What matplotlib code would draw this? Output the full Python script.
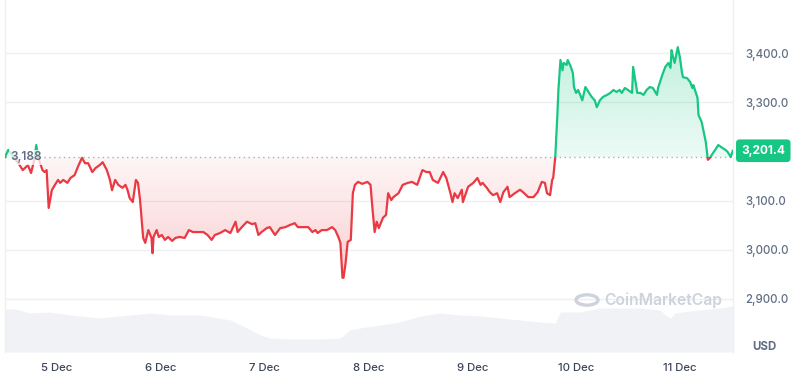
import numpy as np
import matplotlib
matplotlib.use("Agg")
import matplotlib.pyplot as plt
from matplotlib.path import Path
from matplotlib.patches import Rectangle, Circle
from matplotlib.colors import to_rgb

plt.rcParams['font.family'] = ['Inter', 'DejaVu Sans']

# ---- data (time in fractional day-of-December, price in USD) ----
t = [4.50, 4.53, 4.59, 4.64, 4.67, 4.72, 4.75, 4.78, 4.80, 4.82, 4.86, 4.88, 4.90, 4.92,
     4.95, 4.98, 5.01, 5.03, 5.06, 5.10, 5.13, 5.17, 5.20, 5.24, 5.27, 5.30, 5.34, 5.37,
     5.41, 5.44, 5.48, 5.51, 5.53, 5.56, 5.59, 5.63, 5.66, 5.68, 5.70, 5.73, 5.76, 5.78,
     5.80, 5.83, 5.85, 5.88, 5.91, 5.92, 5.93, 5.96, 5.98, 6.01, 6.04, 6.07, 6.11, 6.14,
     6.18, 6.23, 6.27, 6.31, 6.36, 6.41, 6.45, 6.49, 6.52, 6.57, 6.62, 6.67, 6.72, 6.74,
     6.78, 6.83, 6.88, 6.91, 6.94, 6.97, 7.02, 7.05, 7.10, 7.15, 7.20, 7.24, 7.29, 7.32,
     7.37, 7.42, 7.46, 7.49, 7.51, 7.55, 7.60, 7.65, 7.68, 7.71, 7.73, 7.75, 7.76, 7.78,
     7.80, 7.83, 7.85, 7.87, 7.90, 7.94, 7.99, 8.02, 8.04, 8.06, 8.08, 8.10, 8.14, 8.17,
     8.19, 8.22, 8.24, 8.29, 8.33, 8.38, 8.42, 8.47, 8.52, 8.56, 8.59, 8.62, 8.67, 8.72,
     8.75, 8.79, 8.81, 8.83, 8.86, 8.90, 8.91, 8.96, 9.01, 9.05, 9.08, 9.10, 9.14, 9.17,
     9.20, 9.24, 9.27, 9.30, 9.34, 9.36, 9.41, 9.46, 9.49, 9.54, 9.59, 9.63, 9.67, 9.70,
     9.72, 9.75, 9.77, 9.78, 9.80, 9.82, 9.83, 9.85, 9.87, 9.88, 9.91, 9.92, 9.95, 9.97,
     9.98, 10.00, 10.02, 10.04, 10.06, 10.09, 10.12, 10.15, 10.18, 10.20, 10.23, 10.26,
     10.30, 10.33, 10.36, 10.39, 10.42, 10.44, 10.47, 10.50, 10.54, 10.55, 10.57, 10.59,
     10.62, 10.65, 10.68, 10.71, 10.74, 10.78, 10.79, 10.83, 10.86, 10.89, 10.91, 10.92,
     10.93, 10.95, 10.97, 10.98, 11.00, 11.02, 11.03, 11.07, 11.10, 11.12, 11.13, 11.17,
     11.18, 11.21, 11.23, 11.25, 11.27, 11.29, 11.32, 11.34, 11.37, 11.41, 11.44, 11.46,
     11.49, 11.51]
price = [3189, 3203, 3187, 3172, 3162, 3172, 3156, 3182, 3213, 3187, 3162, 3158, 3162, 3085,
         3121, 3132, 3142, 3136, 3142, 3136, 3146, 3152, 3168, 3187, 3176, 3176, 3158, 3166,
         3172, 3178, 3162, 3142, 3121, 3142, 3132, 3126, 3132, 3121, 3105, 3097, 3142, 3136,
         3101, 3024, 3014, 3040, 3024, 2993, 3026, 3040, 3026, 3030, 3020, 3026, 3018, 3024,
         3026, 3024, 3040, 3036, 3036, 3036, 3030, 3020, 3030, 3034, 3040, 3034, 3057, 3036,
         3046, 3057, 3052, 3054, 3030, 3036, 3044, 3046, 3030, 3044, 3046, 3050, 3054, 3046,
         3046, 3046, 3036, 3040, 3034, 3040, 3040, 3046, 3040, 3026, 3014, 2943, 2943, 2973,
         3016, 3020, 3115, 3132, 3138, 3134, 3138, 3132, 3081, 3036, 3057, 3044, 3065, 3071,
         3115, 3101, 3107, 3115, 3132, 3136, 3138, 3132, 3162, 3158, 3158, 3142, 3136, 3158,
         3146, 3115, 3097, 3115, 3105, 3122, 3097, 3128, 3136, 3146, 3132, 3136, 3126, 3117,
         3111, 3115, 3097, 3117, 3128, 3107, 3115, 3122, 3117, 3107, 3107, 3117, 3138, 3136,
         3115, 3111, 3142, 3146, 3189, 3274, 3325, 3386, 3365, 3380, 3376, 3386, 3372, 3359,
         3331, 3319, 3325, 3315, 3304, 3331, 3321, 3311, 3304, 3290, 3304, 3311,
         3315, 3319, 3325, 3321, 3325, 3319, 3329, 3325, 3319, 3372, 3345, 3319,
         3319, 3315, 3325, 3331, 3329, 3315, 3329, 3355, 3372, 3380, 3370, 3406,
         3396, 3380, 3402, 3412, 3392, 3361, 3351, 3349, 3341, 3329, 3335, 3309,
         3274, 3260, 3239, 3219, 3183, 3187, 3197, 3203, 3213, 3207, 3203, 3199,
         3189, 3201.4]
baseline = 3188
vol_t = [4.50, 4.60, 4.74, 4.93, 5.13, 5.41, 5.70, 5.90, 6.09, 6.38, 6.67, 6.81, 6.96, 7.05,
         7.24, 7.53, 7.73, 7.82, 7.92, 8.11, 8.30, 8.50, 8.69, 8.88, 9.08, 9.27, 9.46, 9.65,
         9.80, 9.85, 10.04, 10.23, 10.62, 10.81, 10.86, 10.91, 10.95, 11.10, 11.39, 11.51]
volume = [43, 43, 39, 40, 37, 34, 37, 39, 37, 37, 32, 25, 17, 14,
          13, 13, 14, 22, 24, 27, 30, 36, 39, 37, 36, 34, 32, 30,
          29, 40, 40, 44, 44, 42, 37, 34, 39, 41, 44, 46]
tick_days = [5, 6, 7, 8, 9, 10, 11]
tick_labels = ['5 Dec', '6 Dec', '7 Dec', '8 Dec', '9 Dec', '10 Dec', '11 Dec']
y_ticks = [2900, 3000, 3100, 3300, 3400]
y_tick_labels = ['2,900.0', '3,000.0', '3,100.0', '3,300.0', '3,400.0']

GREEN = '#16c784'
RED = '#ea3943'
TXT = '#616e85'

t = np.array(t)
price = np.array(price)

fig = plt.figure(figsize=(8, 3.76), dpi=100)
W, H = 800, 376
ax = fig.add_axes([5 / W, 24 / H, 728 / W, 352 / H])
xmin, xmax = 4.499, 11.512
ymin, ymax = 2792, 3508

# volume (background)
axv = ax.twinx()
axv.fill_between(vol_t, volume, 0, color='#f0f2f6', lw=0, zorder=0)
axv.set_ylim(0, 352)
axv.set_axis_off()
ax.set_zorder(axv.get_zorder() + 1)
ax.patch.set_visible(False)

ax.set_xlim(xmin, xmax)
ax.set_ylim(ymin, ymax)

# grid
for yv in y_ticks:
    ax.axhline(yv, color='#eceff3', lw=1.0, zorder=1)

# gradient fills
def grad_fill(mask, c, y0, y1, a0, a1):
    coll = ax.fill_between(t, price, baseline, where=mask, interpolate=True,
                           facecolor='none', edgecolor='none')
    paths = coll.get_paths()
    if not paths:
        return
    cp = Path.make_compound_path(*paths)
    n = 256
    rgb = to_rgb(c)
    img = np.zeros((n, 2, 4))
    img[:, :, :3] = rgb
    alphas = np.linspace(a0, a1, n)
    img[:, :, 3] = alphas[:, None]
    lo, hi = min(y0, y1), max(y0, y1)
    if y0 > y1:
        img = img[::-1]
    im = ax.imshow(img, extent=[xmin, xmax, lo, hi], origin='lower', aspect='auto',
                   interpolation='bilinear', zorder=2)
    im.set_clip_path(cp, transform=ax.transData)

grad_fill(price >= baseline, GREEN, baseline, 3420, 0.08, 0.27)
grad_fill(price <= baseline, RED, baseline, 2940, 0.05, 0.24)
ax.set_xlim(xmin, xmax)
ax.set_ylim(ymin, ymax)

# baseline dotted
ax.axhline(baseline, color='#a6b0c3', lw=1.0, ls=(0, (1, 2.5)), zorder=3)

# line coloured above/below baseline
lg, = ax.plot(t, price, color=GREEN, lw=1.6, zorder=4, solid_joinstyle='round')
lg.set_clip_path(Rectangle((xmin, baseline), xmax - xmin, 1000, transform=ax.transData))
lr, = ax.plot(t, price, color=RED, lw=1.6, zorder=4, solid_joinstyle='round')
lr.set_clip_path(Rectangle((xmin, baseline - 1000), xmax - xmin, 1000, transform=ax.transData))

# baseline label
ax.text(4.55, baseline, '3,188', color=TXT, fontsize=8.5, fontweight='semibold',
        va='center', ha='left', zorder=6,
        bbox=dict(boxstyle='square,pad=0.15', fc='white', ec='none', alpha=0.75))

# axes styling
for s in ['top', 'bottom']:
    ax.spines[s].set_visible(False)
for s in ['left', 'right']:
    ax.spines[s].set_color('#eceff3')
    ax.spines[s].set_linewidth(1.0)

ax.yaxis.tick_right()
ax.set_yticks(y_ticks)
ax.set_yticklabels(y_tick_labels)
ax.tick_params(axis='y', length=0, pad=9, labelsize=8.3, labelcolor=TXT)
ax.set_xticks(tick_days)
ax.set_xticklabels(tick_labels)
ax.tick_params(axis='x', length=0, pad=8, labelsize=8.2, labelcolor='#3d4658')
for lab in ax.get_yticklabels() + ax.get_xticklabels():
    lab.set_fontweight('medium')

# current price tag
ax.annotate(f'{price[-1]:,.1f}', xy=(1, price[-1]), xycoords=('axes fraction', 'data'),
            xytext=(6, 0), textcoords='offset points', ha='left', va='center',
            color='white', fontsize=8.5, fontweight='bold', annotation_clip=False,
            bbox=dict(boxstyle='round,pad=0.45,rounding_size=0.3', fc=GREEN, ec='none'))

fig.text(752 / W, 1 - 347 / H, 'USD', color=TXT, fontsize=8.3, fontweight='bold',
         ha='left', va='center')

# watermark
wm = '#cdd3dc'
fig.patches.append(Circle((587 / W, 1 - 300 / H), 11 / W, transform=fig.transFigure,
                          fill=False, ec=wm, lw=2.4, zorder=10))
fig.text(604 / W, 1 - 300 / H, 'CoinMarketCap', color=wm, fontsize=11.3,
         fontweight='semibold', ha='left', va='center', zorder=10)

fig.savefig('out.png', dpi=100)
